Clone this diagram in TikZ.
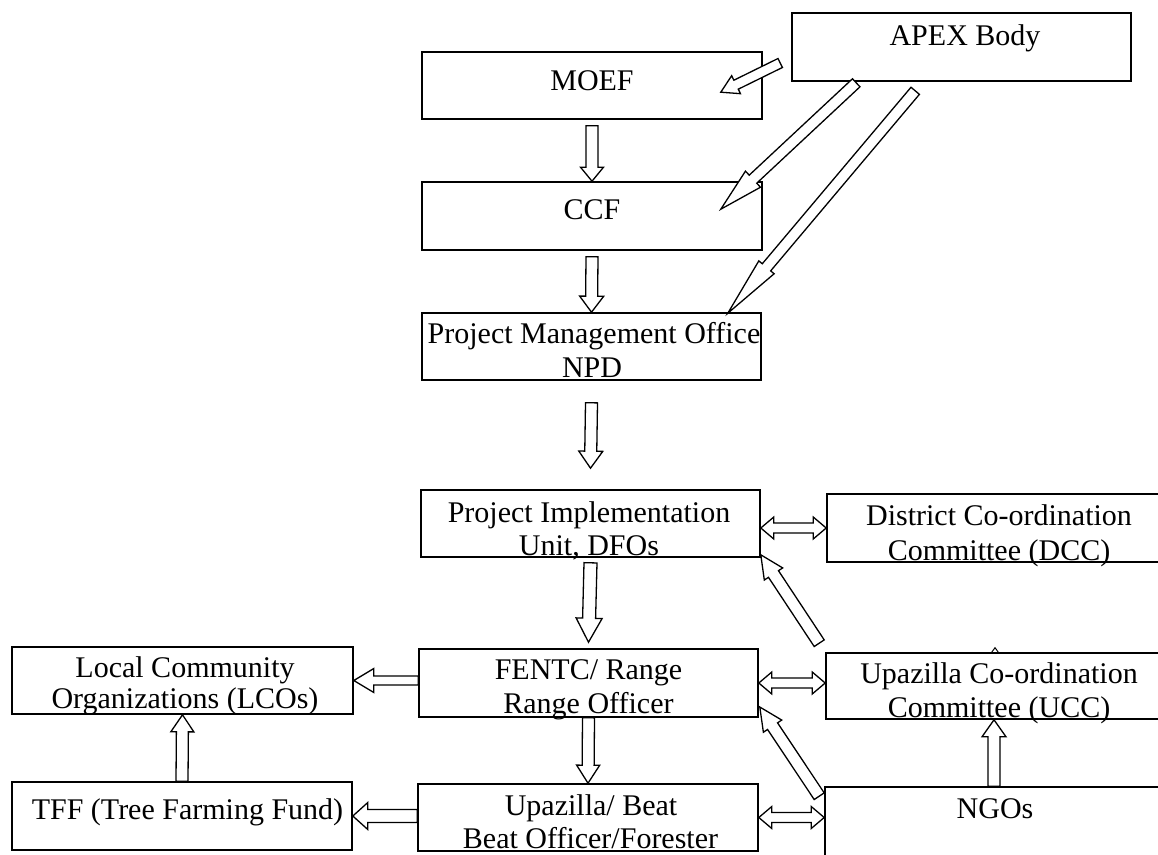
\documentclass[tikz,border=0pt]{standalone}
\usepackage{fontspec}
\setmainfont{Liberation Serif}
\usetikzlibrary{calc}
\tikzset{
  box/.style={draw, line width=1.6pt, inner sep=0pt},
  txt/.style={anchor=base, inner sep=0pt, font=\fontsize{30}{34}\selectfont},
  arr/.style={draw, fill=white, line width=1.3pt, line join=miter},
}
% single block arrow: tail, tip, shaft half width, head half width, head length
\newcommand\barrow[5]{%
  \coordinate (ta) at #1;
  \coordinate (tp) at #2;
  \coordinate (hb) at ($(tp)!#5pt!(ta)$);
  \path[arr] ($(ta)!#3pt!90:(tp)$) -- ($(hb)!#3pt!90:(tp)$) -- ($(hb)!#4pt!90:(tp)$)
    -- (tp) -- ($(hb)!#4pt!-90:(tp)$) -- ($(hb)!#3pt!-90:(tp)$) -- ($(ta)!#3pt!-90:(tp)$) -- cycle;
}
% double block arrow: end1, end2, shaft half width, head half width, head length
\newcommand\dbarrow[5]{%
  \coordinate (ea) at #1;
  \coordinate (eb) at #2;
  \coordinate (ha) at ($(ea)!#5pt!(eb)$);
  \coordinate (hc) at ($(eb)!#5pt!(ea)$);
  \path[arr] (ea) -- ($(ha)!#4pt!90:(eb)$) -- ($(ha)!#3pt!90:(eb)$) -- ($(hc)!#3pt!-90:(ea)$)
    -- ($(hc)!#4pt!-90:(ea)$) -- (eb) -- ($(hc)!#4pt!90:(ea)$) -- ($(hc)!#3pt!90:(ea)$)
    -- ($(ha)!#3pt!-90:(eb)$) -- ($(ha)!#4pt!-90:(eb)$) -- cycle;
}
\begin{document}
\begin{tikzpicture}[x=1pt, y=-1pt]
\useasboundingbox (0,0) rectangle (1158,854);
\fill[white] (0,0) rectangle (1158,854);

% boxes
\node[box, minimum width=339pt, minimum height=68pt] (apex) at (961.5,47) {};
\node[box, minimum width=340pt, minimum height=67pt] (moef) at (592,85.5) {};
\node[box, minimum width=340pt, minimum height=68pt] (ccf) at (592,216) {};
\node[box, minimum width=339pt, minimum height=67pt] (pmo) at (591.5,346.5) {};
\node[box, minimum width=339pt, minimum height=67pt] (piu) at (590.5,523.5) {};
\node[box, minimum width=344pt, minimum height=68pt] (dcc) at (999,528) {};
\node[box, minimum width=341pt, minimum height=67pt] (lco) at (182.5,680.5) {};
\node[box, minimum width=339pt, minimum height=68pt] (fentc) at (588.5,683) {};
\node[box, minimum width=345pt, minimum height=66pt] (ucc) at (998.5,686) {};
\node[box, minimum width=340pt, minimum height=68pt] (tff) at (182,816) {};
\node[box, minimum width=340pt, minimum height=67pt] (upb) at (588,817.5) {};
\node[box, minimum width=338pt, minimum height=93pt] (ngo) at (994,833.5) {};

% texts
\node[txt] (apex-t) at (965,45) {APEX Body};
\node[txt] (moef-t) at (592,90) {MOEF};
\node[txt] (ccf-t) at (592,219) {CCF};
\node[txt] (pmo-t1) at (594,343) {Project Management Office};
\node[txt] (pmo-t2) at (592,377) {NPD};
\node[txt] (piu-t1) at (589,522) {Project Implementation};
\node[txt] (piu-t2) at (589,555) {Unit, DFOs};
\node[txt] (dcc-t1) at (999,525) {District Co-ordination};
\node[txt] (dcc-t2) at (999,560) {Committee (DCC)};
\node[txt] (lco-t1) at (185,677) {Local Community};
\node[txt] (lco-t2) at (185,708) {Organizations (LCOs)};
\node[txt] (fentc-t1) at (588.5,679) {FENTC/ Range};
\node[txt] (fentc-t2) at (588.5,713) {Range Officer};
\node[txt] (ucc-t1) at (999,683) {Upazilla Co-ordination};
\node[txt] (ucc-t2) at (999,717) {Committee (UCC)};
\node[txt] (tff-t) at (187.5,819) {TFF (Tree Farming Fund)};
\node[txt] (upb-t1) at (591,815) {Upazilla/ Beat};
\node[txt] (upb-t2) at (590.5,848) {Beat Officer/Forester};
\node[txt] (ngo-t) at (995,818) {NGOs};

% vertical down arrows
\barrow{([yshift=-6pt]moef.south)}{(ccf.north)}{6}{11.5}{14}
\barrow{([yshift=-6pt]ccf.south)}{(pmo.north)}{6}{12}{16}
\barrow{([yshift=-22pt]pmo.south)}{([yshift=21pt]piu.north)}{6}{12}{17}
\barrow{([yshift=-5pt]piu.south)}{([yshift=6pt]fentc.north)}{6.5}{13}{24}
\barrow{(fentc.south)}{(upb.north)}{6}{11.5}{18}

% two-way arrows
\dbarrow{(piu.east |- dcc.west)}{(dcc.west)}{5}{11}{13}
\dbarrow{(fentc.east)}{(ucc.west |- fentc.east)}{5}{11}{13}
\dbarrow{(upb.east)}{(ngo.west |- upb.east)}{5}{11}{13}

% left arrows
\barrow{(fentc.west |- lco.east)}{(lco.east)}{4.5}{12}{20}
\barrow{(upb.west |- tff.east)}{(tff.east)}{6.5}{13.5}{15}

% up arrows
\barrow{(tff.north)}{(lco.south)}{6}{11.5}{17}
\barrow{(ngo.north)}{(ucc.south -| ngo.north)}{6}{12}{17}

% diagonal arrows
\barrow{($(ucc.north west)+(-6,-9)$)}{($(piu.south east)+(0,-3)$)}{6}{11}{23}
\barrow{($(ngo.north west)+(-5,10)$)}{($(fentc.east)+(1,24)$)}{6}{11}{23}
\barrow{($(apex.west)+(-11,16)$)}{($(moef.north east)+(-42,41)$)}{5}{10}{17}
\barrow{($(apex.south west)+(65,1)$)}{($(ccf.north east)+(-42,28)$)}{5.5}{11}{44}
\barrow{($(apex.south west)+(124,9)$)}{($(pmo.north east)+(-34,1)$)}{5.5}{10}{60}

% small mark on top of UCC
\draw[line width=1pt] ($(ucc.north)+(-6.8,0)$) coordinate (m1) -- ++(3.3,-4.5) coordinate (m2) -- ++(3.3,4.5) coordinate (m3);
\end{tikzpicture}
\end{document}
